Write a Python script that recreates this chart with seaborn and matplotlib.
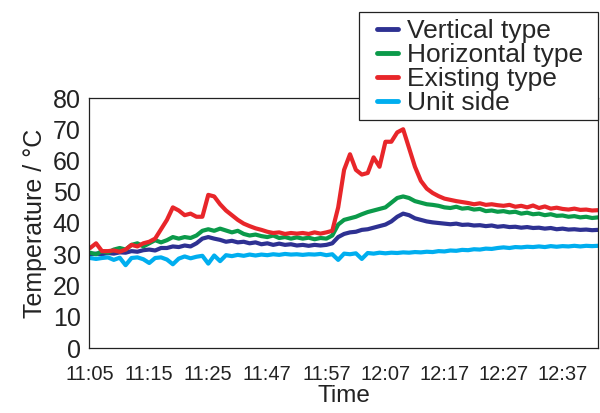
import numpy as np
import pandas as pd
import matplotlib
matplotlib.use("Agg")
import matplotlib.pyplot as plt
import matplotlib.patches as mpatches
import seaborn as sns

tick_labels = ["11:05", "11:15", "11:25", "11:47", "11:57", "12:07", "12:17", "12:27", "12:37"]

vertical = [30, 30.2, 30, 30.4, 30.2, 30.6, 30.5, 31, 30.8, 31.3,
            31.5, 31.2, 32, 32, 32.5, 32.3, 32.8, 32.5, 33.5, 35,
            35.5, 35, 34.6, 34, 34.3, 33.8, 34, 33.5, 33.8, 33.2,
            33.5, 33, 33.4, 33, 33.2, 32.8, 33, 32.7, 33, 32.8,
            33, 33.5, 35.5, 36.5, 37, 37.2, 37.8, 38, 38.5, 39,
            39.5, 40.5, 42, 43, 42.5, 41.5, 41, 40.5, 40.2, 40,
            39.8, 39.6, 39.8, 39.4, 39.5, 39.2, 39.3, 39, 39.2, 38.8,
            39, 38.7, 38.8, 38.5, 38.7, 38.4, 38.5, 38.2, 38.4, 38,
            38.2, 37.9, 38, 37.8, 37.9, 37.7, 37.8]

horizontal = [30.5, 30, 31, 30.5, 31.5, 32, 31.5, 33, 33.5, 32.5,
              33.5, 34.5, 33.8, 34.5, 35.5, 35, 35.5, 35.2, 36, 37.5,
              38, 37.5, 38.2, 37.6, 37, 37.5, 36.5, 36, 36.3, 35.8,
              35.5, 36, 35.2, 35.5, 35, 35.4, 35, 35.3, 34.8, 35.2,
              35, 36, 39.5, 41, 41.5, 42, 42.8, 43.5, 44, 44.5,
              45, 46.5, 48, 48.5, 48, 47, 46.5, 46, 45.8, 45.5,
              45, 44.8, 45.2, 44.6, 44.8, 44.3, 44.5, 43.8, 44, 43.6,
              43.8, 43.4, 43.6, 43, 43.3, 42.8, 43, 42.5, 42.8, 42.3,
              42.4, 42, 42.2, 41.8, 42, 41.6, 41.8]

existing = [32, 33.5, 31, 31, 31.2, 30.8, 31.5, 33, 32.5, 33.5,
            34, 35, 38, 41, 45, 44, 42.5, 43, 42, 42,
            49, 48.5, 46, 44, 42.5, 41, 39.8, 39, 38.3, 37.8,
            37.2, 36.8, 37, 36.5, 36.8, 36.6, 36.8, 36.5, 37, 36.6,
            37, 37.5, 45, 57, 62, 57, 55.5, 56, 61, 58,
            66, 66, 69, 70, 64, 58, 53.5, 51, 49.6, 48.6,
            47.8, 47.4, 47, 46.7, 46.4, 46, 46.3, 45.8, 46, 45.7,
            45.5, 45.8, 45.2, 45.5, 45, 45.6, 44.8, 45.3, 44.6, 44.9,
            44.5, 44.3, 44.6, 44.2, 44.3, 44, 44.1]

unit_side = [28.8, 28.5, 28.8, 29, 28.2, 28.9, 26.5, 28.8, 29, 28.4,
             27.2, 28.8, 29, 28.3, 26.8, 28.6, 29.3, 28.7, 29.2, 29.5,
             27, 29.6, 27.8, 29.7, 29.4, 29.8, 29.5, 29.9, 29.6, 29.9,
             29.7, 30, 29.8, 30.1, 29.9, 30, 29.8, 30, 29.9, 30.1,
             29.7, 30, 28.2, 30.2, 30, 30.3, 28.5, 30.4, 30.2, 30.5,
             30.3, 30.5, 30.4, 30.6, 30.5, 30.7, 30.6, 30.8, 30.7, 31,
             30.9, 31.2, 31.1, 31.4, 31.3, 31.6, 31.5, 31.8, 31.7, 32,
             32.2, 32, 32.3, 32.2, 32.4, 32.3, 32.5, 32.3, 32.6, 32.4,
             32.6, 32.5, 32.7, 32.5, 32.7, 32.6, 32.7]

series_names = ["Vertical type", "Horizontal type", "Existing type", "Unit side"]
colors = ["#2E3192", "#0B9A4A", "#E8262A", "#00AEEF"]

sns.set_style("white")
plt.rcParams["font.family"] = ["Liberation Sans", "DejaVu Sans"]

x = np.arange(len(vertical)) * 0.1

W, H = 600, 413
fig = plt.figure(figsize=(W / 100, H / 100), dpi=100)
ax = fig.add_axes([89 / W, 65 / H, 509 / W, 250 / H])

for name, vals, c in zip(series_names, [vertical, horizontal, existing, unit_side], colors):
    df = pd.DataFrame({"x": x, "y": vals})
    sns.lineplot(data=df, x="x", y="y", ax=ax, color=c, linewidth=3.0, label=name, legend=False)

ax.set_xlim(-0.02, 8.6)
ax.set_ylim(0, 80)
ax.set_yticks(range(0, 81, 10))
ax.set_xticks(range(len(tick_labels)))
ax.set_xticklabels(tick_labels)
ax.tick_params(axis="y", direction="in", length=5, width=0.8, labelsize=18, pad=6, colors="#222222")
ax.tick_params(axis="x", length=0, labelsize=14.5, pad=12, colors="#222222")
for sp in ax.spines.values():
    sp.set_visible(True)
    sp.set_color("#222222")
    sp.set_linewidth(0.9)
ax.set_xlabel("Time", fontsize=17.5, color="#222222", labelpad=1)
ax.set_ylabel("Temperature / °C", fontsize=18, color="#222222", labelpad=4)

# legend box (drawn as a figure rectangle so its padding matches the reference)
box = mpatches.Rectangle((359 / W, 1 - 120 / H), 239 / W, 108 / H, transform=fig.transFigure,
                         facecolor="white", edgecolor="#222222", linewidth=0.9, zorder=5)
fig.patches.append(box)

handles, labels = ax.get_legend_handles_labels()
leg = fig.legend(handles, labels, loc="upper left", bbox_to_anchor=(377 / W, 1 - 19 / H),
                 fontsize=19, frameon=False, handlelength=0.8, handletextpad=0.35,
                 labelspacing=0.0, borderpad=0.0, borderaxespad=0)
leg.set_zorder(6)
for lh in leg.get_lines():
    lh.set_linewidth(3.5)

fig.savefig("out.png", dpi=100)
